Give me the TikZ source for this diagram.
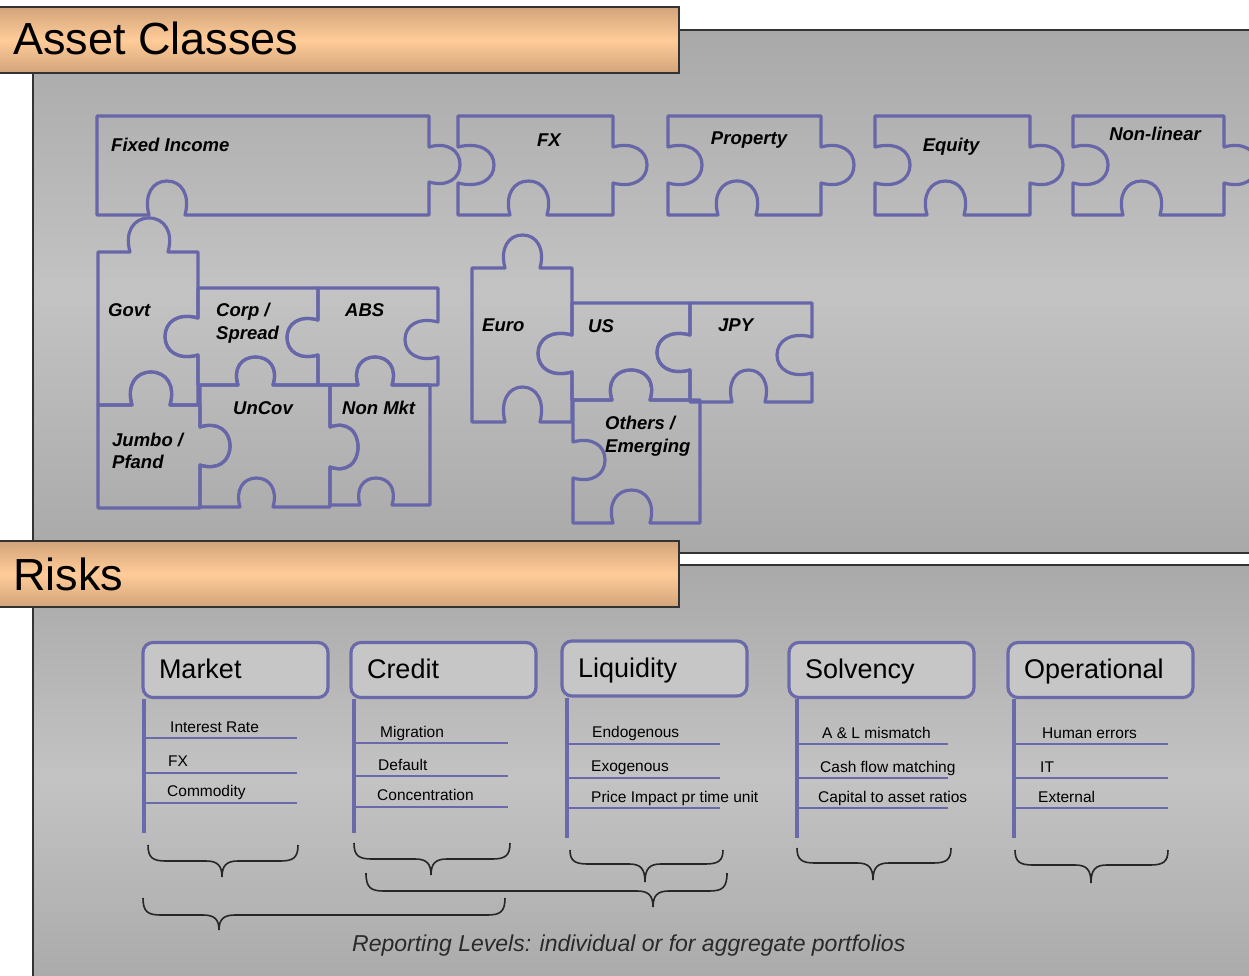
\documentclass[tikz,border=0pt]{standalone}
\usepackage{fontspec}
\setmainfont{Liberation Sans}
\definecolor{pz}{HTML}{6666A8}
\definecolor{pzb}{HTML}{6A6AAA}
\definecolor{hdA}{HTML}{D2A47A}
\definecolor{hdB}{HTML}{FFCC99}
\definecolor{pgA}{HTML}{A9A9A9}
\definecolor{pgB}{HTML}{C3C3C3}
\definecolor{bxf}{HTML}{C6C6C6}
\definecolor{frame}{HTML}{333333}
\definecolor{capc}{HTML}{2A2A2A}
\tikzset{
  knobH/.style n args={4}{insert path={ -- (#1,#3) .. controls ({#1-0.15*(#2-#1)},{#3+0.6*(#4-#3)}) and ({#1+0.1*(#2-#1)},#4) .. ({(#1+#2)/2},#4) .. controls ({#2-0.1*(#2-#1)},#4) and ({#2+0.15*(#2-#1)},{#3+0.6*(#4-#3)}) .. (#2,#3)}},
  knobV/.style n args={4}{insert path={ -- (#3,#1) .. controls ({#3+0.6*(#4-#3)},{#1-0.15*(#2-#1)}) and (#4,{#1+0.1*(#2-#1)}) .. (#4,{(#1+#2)/2}) .. controls (#4,{#2-0.1*(#2-#1)}) and ({#3+0.6*(#4-#3)},{#2+0.15*(#2-#1)}) .. (#3,#2)}},
  pc/.style={draw=pz, line width=3.2pt, line join=round},
  lbl/.style={font=\fontsize{18.5}{23}\selectfont\bfseries\itshape, inner sep=0pt, align=left},
  hdr/.style={font=\fontsize{45}{50}\selectfont, inner sep=0pt},
  riskbox/.style={draw=pzb, fill=bxf, line width=3.2pt, rounded corners=10pt, minimum height=55pt, text width=153pt, inner xsep=16pt, align=left, font=\fontsize{27}{30}\selectfont, text height=17pt, text depth=0pt},
  vline/.style={draw=pzb, line width=3.2pt},
  iline/.style={draw=pzb, line width=2.4pt},
  item/.style={font=\fontsize{15.5}{18}\selectfont, inner sep=0pt, anchor=base west},
  bracestyle/.style={draw=black!85, line width=1.6pt},
  hdshade/.style={top color=hdA, bottom color=hdA, middle color=hdB, draw=frame, line width=1.2pt},
  pgshade/.style={top color=pgA, bottom color=pgA, middle color=pgB},
}
\newcommand\riskbrace[6]{\draw[bracestyle] (#1,#4) .. controls (#1,{#5-3}) and ({#1+5},#5) .. ({#1+18},#5) -- ({#3-16},#5) .. controls ({#3-5},#5) and (#3,{#5+4}) .. (#3,#6) .. controls (#3,{#5+4}) and ({#3+5},#5) .. ({#3+16},#5) -- ({#2-18},#5) .. controls ({#2-5},#5) and (#2,{#5-3}) .. (#2,#4);}
\begin{document}
\begin{tikzpicture}[x=1pt,y=-1pt]
\useasboundingbox (0,0) rectangle (1249,976);
\clip (0,0) rectangle (1249,976);
\fill[white] (0,0) rectangle (1249,976);
% panels
\shade[pgshade] (33,30) rectangle (1262,553);
\draw[frame, line width=1.5pt] (1262,30) -- (33,30) -- (33,553) -- (1262,553);
\shade[pgshade] (33,565) rectangle (1262,992);
\draw[frame, line width=1.5pt] (1262,565) -- (33,565) -- (33,992);
% headers
\shadedraw[hdshade] (-2,7) rectangle (679,73);
\node[hdr, anchor=base west] (hAsset) at (13,55) {Asset Classes};
\shadedraw[hdshade] (-2,541) rectangle (679,607);
\node[hdr, anchor=base west] (hRisk) at (13,590) {Risks};
% top row pieces
\draw[pc] (97,116) -- (429,116) [knobV={147}{182}{429}{460}] -- (429,215) [knobH={185}{149}{215}{181}] -- (97,215) -- cycle;
\draw[pc] (458,116) -- (613,116) [knobV={147}{183}{613}{647}] -- (613,215) [knobH={547}{510}{215}{181}] -- (458,215) [knobV={183}{147}{458}{494}] -- cycle;
\draw[pc] (668,116) -- (821,116) [knobV={147}{183}{821}{854}] -- (821,215) [knobH={756}{718}{215}{181}] -- (668,215) [knobV={183}{147}{668}{702}] -- cycle;
\draw[pc] (875,116) -- (1030,116) [knobV={147}{183}{1030}{1063}] -- (1030,215) [knobH={964}{927}{215}{181}] -- (875,215) [knobV={183}{147}{875}{910}] -- cycle;
\draw[pc] (1073,116) -- (1224,116) [knobV={147}{183}{1224}{1257}] -- (1224,215) [knobH={1160}{1123}{215}{181}] -- (1073,215) [knobV={183}{147}{1073}{1108}] -- cycle;
\node[lbl, anchor=base west] (fi) at (111,152) {Fixed Income};
\node[lbl, anchor=base] (fx) at (549,147) {FX};
\node[lbl, anchor=base] (prop) at (749,145) {Property};
\node[lbl, anchor=base] (eq) at (951,152) {Equity};
\node[lbl, anchor=base] (nl) at (1155,141) {Non-linear};
% fixed income cluster
\draw[pc] (98,252) [knobH={130}{168}{252}{218}] -- (198,252) [knobV={318}{355}{198}{165}] -- (198,405) [knobH={170}{132}{405}{372}] -- (98,405) -- cycle;
\draw[pc] (198,288) -- (318,288) [knobV={320}{355}{318}{287}] -- (318,385) [knobH={273}{238}{385}{357}] -- (198,385) [knobV={355}{318}{198}{165}] -- cycle;
\draw[pc] (318,288) -- (438,288) [knobV={322}{357}{438}{405}] -- (438,385) [knobH={392}{358}{385}{357}] -- (318,385) [knobV={355}{320}{318}{287}] -- cycle;
\draw[pc] (98,405) [knobH={132}{170}{405}{372}] -- (200,405) [knobV={427}{465}{200}{230}] -- (200,508) -- (98,508) -- cycle;
\draw[pc] (200,385) [knobH={238}{273}{385}{357}] -- (330,385) [knobV={427}{467}{330}{358}] -- (330,507) [knobH={273}{240}{507}{478}] -- (200,507) [knobV={465}{427}{200}{230}] -- cycle;
\draw[pc] (330,385) [knobH={358}{392}{385}{357}] -- (430,385) -- (430,505) [knobH={392}{360}{505}{478}] -- (330,505) [knobV={467}{427}{330}{358}] -- cycle;
\node[lbl, anchor=base west] (govt) at (108,316) {Govt};
\node[lbl, anchor=north west] (corp) at (216,303) {Corp /\\Spread};
\node[lbl, anchor=base west] (abs) at (345,316) {ABS};
\node[lbl, anchor=base west] (uncov) at (233,414) {UnCov};
\node[lbl, anchor=base west] (nonmkt) at (342,414) {Non Mkt};
\node[lbl, anchor=north west, font=\fontsize{18.5}{21.5}\selectfont\bfseries\itshape] (jumbo) at (112,433) {Jumbo /\\Pfand};
% FX cluster
\draw[pc] (472,268) [knobH={505}{540}{268}{235}] -- (572,268) [knobV={335}{372}{572}{538}] -- (572,422) [knobH={540}{505}{422}{387}] -- (472,422) -- cycle;
\draw[pc] (572,303) -- (690,303) [knobV={335}{370}{690}{657}] -- (690,400) [knobH={650}{612}{400}{370}] -- (572,400) [knobV={372}{335}{572}{538}] -- cycle;
\draw[pc] (690,303) -- (812,303) [knobV={337}{373}{812}{777}] -- (812,402) [knobH={765}{732}{402}{370}] -- (690,402) [knobV={370}{335}{690}{657}] -- cycle;
\draw[pc] (573,400) [knobH={612}{650}{400}{370}] -- (700,400) -- (700,523) [knobH={650}{613}{523}{490}] -- (573,523) [knobV={478}{442}{573}{605}] -- cycle;
\node[lbl, anchor=base west] (euro) at (482,331) {Euro};
\node[lbl, anchor=base west] (us) at (588,332) {US};
\node[lbl, anchor=base west] (jpy) at (718,331) {JPY};
\node[lbl, anchor=north west] (others) at (605,416) {Others /\\Emerging};
% risk boxes
\node[riskbox] (mkt) at (235.5,670) {Market};
\node[riskbox] (cred) at (443.5,670) {Credit};
\node[riskbox] (liq) at (654.5,668.5) {Liquidity};
\node[riskbox] (solv) at (881.5,670) {Solvency};
\node[riskbox] (oper) at (1100.5,670) {Operational};
\coordinate (mktE) at (144,833);
\coordinate (credE) at (354,833);
\coordinate (liqE) at (567,838);
\coordinate (solvE) at (797,838);
\coordinate (operE) at (1014,838);
\draw[vline] (mktE |- mkt.south) -- (mktE);
\draw[vline] (credE |- cred.south) -- (credE);
\draw[vline] (liqE |- liq.south) -- (liqE);
\draw[vline] (solvE |- solv.south) -- (solvE);
\draw[vline] (operE |- oper.south) -- (operE);
\foreach \x/\b/\l/\t [count=\i] in {170/732/738/Interest Rate, 168/766/773/FX, 167/796/803/Commodity}{
  \node[item] (m\i) at (\x,\b) {\t};
  \draw[iline] (144,\l) -- (297,\l);
}
\foreach \x/\b/\l/\t [count=\i] in {380/737/743/Migration, 378/770/776/Default, 377/800.5/807/Concentration}{
  \node[item] (c\i) at (\x,\b) {\t};
  \draw[iline] (354,\l) -- (508,\l);
}
\foreach \x/\b/\l/\t [count=\i] in {592/737.5/744/Endogenous, 591/771.5/778/Exogenous, 591/802/808/Price Impact pr time unit}{
  \node[item] (l\i) at (\x,\b) {\t};
  \draw[iline] (567,\l) -- (720,\l);
}
\foreach \x/\b/\l/\t [count=\i] in {822/738/744/A \& L mismatch, 820/772/778/Cash flow matching, 818/802/808/Capital to asset ratios}{
  \node[item] (s\i) at (\x,\b) {\t};
  \draw[iline] (797,\l) -- (948,\l);
}
\foreach \x/\b/\l/\t [count=\i] in {1042/738/744/Human errors, 1040/772/778/IT, 1038/802/808/External}{
  \node[item] (o\i) at (\x,\b) {\t};
  \draw[iline] (1014,\l) -- (1168,\l);
}
% braces
\riskbrace{148}{298}{222}{845}{861}{877}
\riskbrace{354}{510}{431}{843}{859}{875}
\riskbrace{570}{723}{645}{850}{864}{882}
\riskbrace{797}{951}{873}{848}{863}{880}
\riskbrace{1015}{1168}{1091}{850}{865}{883}
\riskbrace{366}{727}{653}{873}{891}{907}
\riskbrace{143}{505}{219}{898}{915}{930}
\node[anchor=base west, inner sep=0pt, text=capc, font=\fontsize{23}{27}\selectfont\itshape] (cap) at (352,951) {Reporting Levels: individual or for aggregate portfolios};
\end{tikzpicture}
\end{document}
